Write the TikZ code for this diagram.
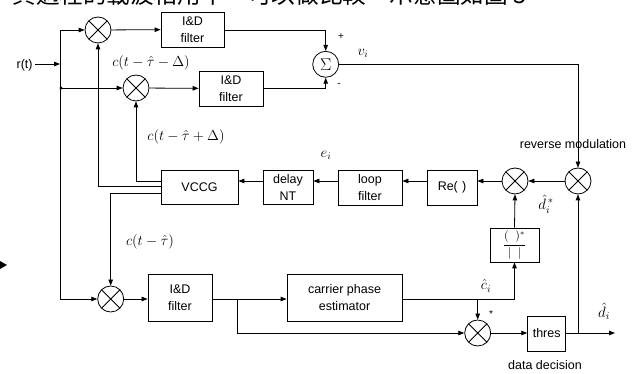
\RequirePackage{fix-cm}
\documentclass[tikz,border=0pt]{standalone}
\usepackage{fontspec}
\setmainfont{Liberation Sans}
\newfontfamily\cjk{Noto Sans CJK TC}
\usetikzlibrary{arrows.meta,calc}
\begin{document}
\begin{tikzpicture}[x=1pt,y=-1pt,line width=0.8pt,
  every node/.style={font=\fontsize{12.5}{17}\selectfont},
  blk/.style={draw, rectangle, align=center, inner sep=0pt},
  mult/.style={draw, circle, minimum size=26pt, inner sep=0pt,
    path picture={\draw[line width=0.8pt] (path picture bounding box.north west)--(path picture bounding box.south east)
      (path picture bounding box.north east)--(path picture bounding box.south west);}},
  arr/.style={-{Triangle[length=6pt,width=4.5pt]}},
  lbl/.style={inner sep=0pt},
  mlbl/.style={inner sep=0pt, font=\fontsize{14.5}{16}\selectfont}]
\useasboundingbox (0,0) rectangle (638,374);
\clip (0,0) rectangle (638,374);

% caption fragment (cropped at top)
\node[anchor=base west, inner sep=0pt, font=\cjk\fontsize{23.6}{26}\selectfont] (cap) at (12,4) {其過程的載波相用中，可以做比較，示意圖如圖 3。};

% blocks
\node[blk, minimum width=63pt, minimum height=35pt] (idf1) at (192.5,29.5) {I\&D\\filter};
\node[blk, minimum width=64pt, minimum height=35pt] (idf2) at (231,88.5) {I\&D\\filter};
\node[blk, minimum width=64pt, minimum height=47pt] (idf3) at (180,297.5) {I\&D\\filter};
\node[blk, minimum width=77pt, minimum height=34pt] (vccg) at (199.5,187) {VCCG};
\node[blk, minimum width=50pt, minimum height=34pt] (delay) at (288,187) {delay\\NT};
\node[blk, minimum width=64pt, minimum height=35pt] (loop) at (370,187.5) {loop\\filter};
\node[blk, minimum width=50pt, minimum height=35pt] (re) at (452,187.5) {Re(\,\,)};
\node[blk, minimum width=49pt, minimum height=34pt, font=\fontsize{12}{13}\selectfont] (conj) at (514.5,245) {$\displaystyle\frac{(\;\;)^{*}}{|\;\;|}$};
\node[blk, minimum width=115pt, minimum height=47pt] (cpe) at (344.5,297.5) {carrier phase\\estimator};
\node[blk, minimum width=38pt, minimum height=35pt] (thres) at (546.7,333.5) {thres};

% multipliers and summer
\node[mult] (m1) at (98,30) {};
\node[mult] (m2) at (136,88) {};
\node[mult] (m3) at (110.7,299) {};
\node[mult] (m4) at (515,181) {};
\node[mult] (m5) at (578,181) {};
\node[mult] (m6) at (477.7,333) {};
\node[draw, circle, minimum size=26pt, inner sep=0pt, font=\fontsize{17}{18}\selectfont] (sum) at (325.7,64.3) {$\Sigma$};

% input
\coordinate (rs) at (35,64);
\coordinate (j) at (60,64);
\node[lbl, anchor=east] (rt) at (33,65) {r(t)};
\draw[arr] (rs) -- (j);
\draw (j |- m1) -- (j |- m3);
\draw[arr] (j |- m1) -- (m1);
\draw[arr] (j |- m2) -- (m2);
\draw[arr] (j |- m3) -- (m3);
\fill (61,88) circle (1.6pt);

% top branches
\draw[arr] (m1) -- (idf1);
\draw[arr] (m2) -- (idf2);
\draw[arr] (idf1.east |- m1) -| (sum.north);
\draw[arr] (idf2.east |- m2) -| (sum.south);
\draw[arr] (sum.east) -| (m5.north);

% loop chain
\draw[arr] (m5) -- (m4);
\draw[arr] (m4.west) -- (m4.west -| re.east);
\draw[arr] (re.west |- m4) -- (loop.east |- m4);
\draw[arr] (loop.west |- m4) -- (delay.east |- m4);
\draw[arr] (delay.west |- m4) -- (vccg.east |- m4);

% VCCG outputs
\draw[arr] (vccg.west |- 0,181) -| (m2.south);
\draw[arr] (vccg.west |- 0,186) -| (m1.south);
\draw[arr] (vccg.west |- 0,193) -| (m3.north);

% lower chain
\draw[arr] (m3) -- (idf3.west |- m3);
\draw[arr] (idf3.east |- m3) -- (cpe.west |- m3);
\coordinate (b1) at (237,299);
\draw[arr] (b1) |- (m6.west);
\draw[arr] (cpe.east |- m3) -| (conj.south);
\draw[arr] (m6 |- m3) -- (m6.north);
\draw[arr] (conj.north) -- (m4.south);
\draw[arr] (m6) -- (thres.west |- m6);
\coordinate (out) at (615,333);
\draw[arr] (thres.east |- m6) -- (out);
\draw[arr] (m5 |- m6) -- (m5.south);

% labels
\node[lbl, font=\fontsize{10}{12}\selectfont] (plus) at (341,37) {+};
\node[lbl, font=\fontsize{10}{12}\selectfont] (minus) at (339,85) {-};
\node[mlbl] (vi) at (363,53) {$v_{i}$};
\node[mlbl] (ei) at (326,155) {$e_{i}$};
\node[mlbl] (c1) at (151,63) {$c(t-\hat{\tau}-\Delta)$};
\node[mlbl] (c2) at (186,137) {$c(t-\hat{\tau}+\Delta)$};
\node[mlbl] (c3) at (150,242) {$c(t-\hat{\tau})$};
\node[lbl] (rm) at (573,144) {reverse modulation};
\node[mlbl, font=\fontsize{15}{16}\selectfont] (dstar) at (546,204) {$\hat{d}_{i}^{\,*}$};
\node[mlbl] (chat) at (486,286) {$\hat{c}_{i}$};
\node[lbl, font=\fontsize{10}{12}\selectfont] (ast) at (491,314) {*};
\node[mlbl, font=\fontsize{15}{16}\selectfont] (dhat) at (604,311) {$\hat{d}_{i}$};
\node[lbl] (dd) at (545,365) {data decision};

% stray arrowhead at left edge
\fill (0,261) -- (7,265) -- (0,269) -- cycle;
\end{tikzpicture}
\end{document}
